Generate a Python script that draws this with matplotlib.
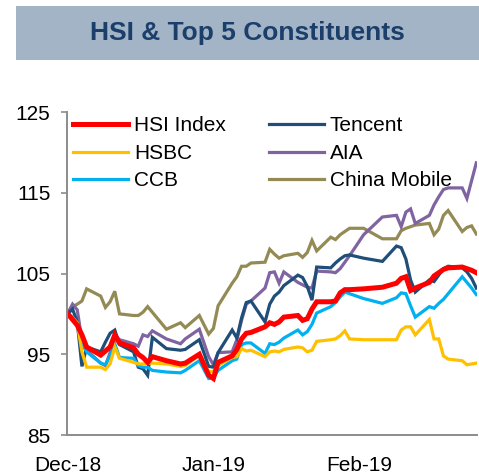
import matplotlib
matplotlib.use("Agg")
import matplotlib.pyplot as plt
import matplotlib.dates as mdates
from matplotlib.patches import Rectangle
import pandas as pd

plt.rcParams['font.family'] = ['Liberation Sans', 'DejaVu Sans']

# trading days (HK), rebased to 100 on the first day
dates = pd.to_datetime([
    "2018-12-03", "2018-12-04", "2018-12-05", "2018-12-06", "2018-12-07",
    "2018-12-10", "2018-12-11", "2018-12-12", "2018-12-13", "2018-12-14",
    "2018-12-17", "2018-12-18", "2018-12-19", "2018-12-20", "2018-12-21",
    "2018-12-24", "2018-12-27", "2018-12-28", "2018-12-31",
    "2019-01-02", "2019-01-03", "2019-01-04", "2019-01-07", "2019-01-08",
    "2019-01-09", "2019-01-10", "2019-01-11", "2019-01-14", "2019-01-15",
    "2019-01-16", "2019-01-17", "2019-01-18", "2019-01-21", "2019-01-22",
    "2019-01-23", "2019-01-24", "2019-01-25", "2019-01-28", "2019-01-29",
    "2019-01-30", "2019-01-31",
    "2019-02-01", "2019-02-04", "2019-02-08", "2019-02-11", "2019-02-12",
    "2019-02-13", "2019-02-14", "2019-02-15", "2019-02-18", "2019-02-19",
    "2019-02-20", "2019-02-21", "2019-02-22", "2019-02-25", "2019-02-26",
    "2019-02-27", "2019-02-28",
])

hsi = [100.0, 99.3, 98.6, 97.4, 95.9, 94.9, 95.4, 95.9, 97.4, 96.4,
       95.8, 95.0, 94.6, 94.0, 94.7, 94.2, 93.8, 93.9, 95.0,
       92.4, 92.0, 94.0, 94.8, 95.6, 96.9, 97.6, 97.7, 98.4, 98.9,
       98.7, 99.0, 99.6, 99.8, 99.2, 99.4, 100.6, 101.5, 101.5, 101.6,
       102.6, 103.0,
       103.0, 103.1, 103.3, 103.8, 104.4, 104.6, 102.9, 103.2, 103.9, 104.7,
       105.1, 105.5, 105.7, 105.8, 105.6, 105.4, 105.1]

tencent = [100.0, 100.6, 99.0, 93.5, 95.9, 95.3, 96.5, 97.6, 98.0, 96.2,
           95.3, 93.4, 93.2, 92.4, 97.1, 95.7, 95.5, 95.6, 96.8,
           93.5, 93.4, 95.2, 98.0, 97.0, 99.5, 101.4, 101.6, 99.0, 101.2,
           102.2, 102.7, 103.5, 104.8, 104.5, 103.4, 101.7, 105.8, 105.7, 106.3,
           106.8, 107.2,
           107.3, 106.9, 106.5, 108.4, 108.2, 106.8, 104.2, 102.7, 104.2, 104.0,
           104.8, 105.6, 105.9, 105.7, 105.2, 104.4, 103.2]

hsbc = [100.0, 99.5, 98.9, 95.3, 93.4, 93.4, 93.1, 93.8, 95.9, 94.5,
        94.0, 93.8, 93.8, 93.9, 93.9, 93.8, 93.5, 93.6, 94.9,
        92.8, 92.9, 93.6, 94.6, 94.7, 95.7, 95.4, 95.5, 94.7, 95.3,
        95.4, 95.3, 95.6, 95.9, 95.8, 95.3, 95.5, 96.6, 96.8, 96.9,
        97.3, 97.9,
        96.9, 96.8, 96.8, 96.8, 98.0, 98.4, 98.4, 97.4, 99.3, 96.9,
        96.9, 94.8, 94.4, 94.2, 93.7, 93.8, 93.9]

aia = [100.1, 101.2, 100.5, 96.8, 95.5, 93.9, 93.6, 95.2, 97.4, 96.8,
       96.3, 96.0, 97.4, 97.2, 97.9, 96.9, 96.3, 96.9, 98.1,
       94.7, 93.7, 95.2, 95.3, 96.8, 99.2, 101.2, 101.6, 103.2, 105.1,
       105.2, 103.8, 105.2, 103.9, 103.6, 103.3, 103.2, 105.3, 105.2, 105.1,
       105.6, 106.4,
       107.2, 109.8, 112.0, 112.2, 110.8, 112.6, 113.0, 111.2, 112.2, 113.5,
       114.5, 115.4, 115.6, 115.6, 114.3, 116.5, 118.7]

ccb = [100.0, 99.6, 98.9, 96.3, 95.3, 93.9, 93.7, 94.8, 96.3, 94.6,
       94.5, 93.6, 93.4, 93.4, 93.0, 92.8, 92.7, 93.0, 94.2,
       92.0, 92.1, 93.0, 94.2, 94.4, 96.2, 96.4, 96.4, 95.1, 96.3,
       96.2, 96.5, 97.0, 98.0, 97.4, 97.8, 98.7, 100.1, 100.9, 101.4,
       102.1, 102.7,
       102.5, 101.9, 101.3, 102.0, 102.6, 102.5, 101.0, 99.6, 100.9, 100.7,
       101.3, 101.8, 102.5, 104.6, 103.9, 103.2, 102.4]

china_mobile = [100.1, 100.9, 101.2, 101.6, 103.1, 102.2, 100.8, 101.5, 102.8, 100.0,
                99.8, 99.8, 100.2, 100.9, 100.2, 98.1, 98.9, 98.3, 99.8,
                97.5, 98.2, 101.0, 103.8, 104.6, 105.9, 105.9, 106.3, 106.4, 108.0,
                107.4, 106.9, 107.2, 107.5, 107.0, 107.6, 109.1, 107.8, 109.5, 109.2,
                109.8, 110.2,
                110.6, 110.6, 109.3, 109.3, 110.3, 110.6, 110.8, 111.0, 111.2, 109.8,
                110.5, 112.2, 112.8, 110.2, 110.7, 110.9, 109.9]

series = [
    ("HSI Index", hsi, "#FF0000", 3.6),
    ("HSBC", hsbc, "#FFC000", 2.3),
    ("CCB", ccb, "#00B0F0", 2.3),
    ("Tencent", tencent, "#1F4E79", 2.3),
    ("AIA", aia, "#8064A2", 2.3),
    ("China Mobile", china_mobile, "#948A54", 2.3),
]

fig = plt.figure(figsize=(4.79, 4.76), dpi=100)

# title banner
fig.patches.append(Rectangle((0.0334, 0.874), 0.97, 0.1134, transform=fig.transFigure,
                             facecolor="#A2B4C6", edgecolor="none", zorder=0))
fig.text(0.516, 0.931, "HSI & Top 5 Constituents", ha="center", va="center",
         fontsize=19, fontweight="bold", color="#1B3F6A")

ax = fig.add_axes([0.140, 0.0861, 0.856, 0.6786])

# draw in reverse so HSI sits on top
for name, vals, color, lw in reversed(series):
    ax.plot(dates, vals, color=color, linewidth=lw, label=name,
            solid_joinstyle="miter")

ax.set_ylim(85, 125)
ax.set_yticks([85, 95, 105, 115, 125])
ax.set_xlim(pd.Timestamp("2018-12-02 20:00"), pd.Timestamp("2019-02-28 04:00"))
ax.set_xticks(pd.to_datetime(["2018-12-03", "2019-01-03", "2019-02-03"]))
ax.xaxis.set_major_formatter(mdates.DateFormatter("%b-%y"))

for side in ["top", "right"]:
    ax.spines[side].set_visible(False)
for side in ["left", "bottom"]:
    ax.spines[side].set_color("#8C8C8C")
    ax.spines[side].set_linewidth(1.4)

ax.tick_params(axis="y", length=4, width=1.2, color="#8C8C8C", pad=8, labelsize=15)
ax.tick_params(axis="x", length=0, pad=15, labelsize=15)

handles, labels = ax.get_legend_handles_labels()
order = ["HSI Index", "HSBC", "CCB", "Tencent", "AIA", "China Mobile"]
hmap = dict(zip(labels, handles))
ax.legend([hmap[k] for k in order], order, ncol=2, loc="upper left",
          bbox_to_anchor=(-0.005, 1.012), frameon=False, fontsize=15,
          handlelength=2.6, handletextpad=0.3, columnspacing=2.1,
          labelspacing=0.4, borderaxespad=0)

fig.savefig("out.png", dpi=100)
